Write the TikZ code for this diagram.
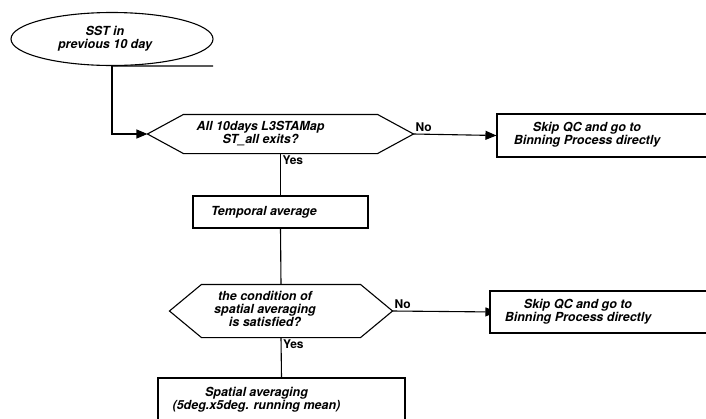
\documentclass[tikz,border=0pt]{standalone}
\usepackage{fontspec}
\setmainfont{TeX Gyre Heros}
\usetikzlibrary{arrows.meta,shapes.geometric,backgrounds}
\tikzset{
  base/.style={font=\fontsize{12.5}{12.8}\selectfont\bfseries\itshape, inner sep=0pt, line width=1.1pt},
  term/.style={base, draw, ellipse, fill=white},
  procbox/.style={base, draw, rectangle, fill=white},
  hexbox/.style={base, rectangle},
  conn/.style={line width=1.1pt},
  arr/.style={conn, -{Triangle[length=11pt,width=9pt]}},
  lab/.style={font=\fontsize{12}{12}\selectfont\bfseries, inner sep=1.5pt}
}
\newcommand{\twoline}[2]{\begin{tabular}{@{}c@{}}#1\\#2\end{tabular}}
\begin{document}
\begin{tikzpicture}[x=1pt,y=-1pt]
\useasboundingbox (0,0) rectangle (706,418);

\node[term, minimum width=202pt, minimum height=53pt] (s) at (112,39)
  {\twoline{SST in}{previous 10 day}\hspace*{14pt}};
\coordinate (sline) at (213,66);

\node[hexbox, minimum width=265pt, minimum height=38pt] (d1) at (280.5,134)
  {\twoline{All 10days L3STAMap}{ST\_all exits?}\hspace*{40pt}};
\draw[conn] (d1.west) -- ([xshift=36pt]d1.north west) -- ([xshift=-36pt]d1.north east)
  -- (d1.east) -- ([xshift=-36pt]d1.south east) -- ([xshift=36pt]d1.south west) -- cycle;

\node[procbox, minimum width=233pt, minimum height=43pt] (b1) at (613.5,135.5)
  {\twoline{Skip QC and go to}{Binning Process directly}\hspace*{53pt}};

\node[procbox, minimum width=175pt, minimum height=32pt] (t) at (280.5,212)
  {Temporal average\hspace*{33pt}};

\node[hexbox, minimum width=222pt, minimum height=52pt] (d2) at (281,311)
  {\begin{tabular}{@{}c@{}}the condition of\\spatial averaging\\is satisfied?\end{tabular}\hspace*{32pt}};
\draw[conn] (d2.west) -- ([xshift=32pt]d2.north west) -- ([xshift=-32pt]d2.north east)
  -- (d2.east) -- ([xshift=-32pt]d2.south east) -- ([xshift=32pt]d2.south west) -- cycle;

\node[procbox, minimum width=240pt, minimum height=42pt] (b2) at (610,312)
  {\twoline{Skip QC and go to}{Binning Process directly}\hspace*{64pt}};

\node[procbox, minimum width=247pt, minimum height=44pt] (b3) at (281.5,400)
  {\twoline{Spatial averaging}{(5deg.x5deg. running mean)}\hspace*{50pt}};

\begin{scope}[on background layer]
\draw[conn] (s.south) -- (sline);
\draw[arr] (s.south) |- (d1.west);
\draw[arr] (d1.east) -- node[lab, pos=0, anchor=south west] {No} (b1.west);
\draw[conn] (d1.south) -- node[lab, pos=0, anchor=north west] {Yes} (t.north);
\draw[conn] (t.south) -- (d2.north);
\draw[arr] (d2.east) -- node[lab, pos=0, anchor=south west] {No} ([xshift=7pt]b2.west);
\draw[conn] (d2.south) -- node[lab, pos=0, anchor=north west] {Yes} (b3.north);
\end{scope}
\end{tikzpicture}
\end{document}
